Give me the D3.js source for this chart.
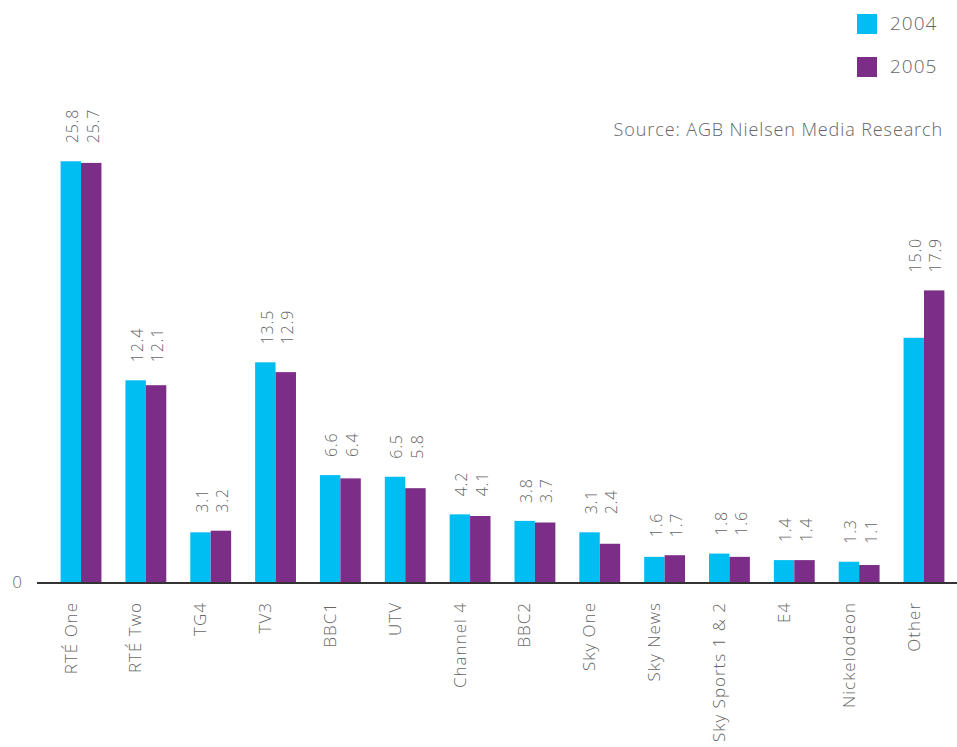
<!doctype html>
<html>
<head>
<meta charset="utf-8">
<script src="https://cdnjs.cloudflare.com/ajax/libs/d3/7.8.5/d3.min.js"></script>
<style>
  body { margin: 0; background: #fff; }
  svg text { font-family: "Open Sans", "Liberation Sans", sans-serif; font-weight: 300; fill: #666; }
</style>
</head>
<body>
<svg id="chart" width="957" height="747"></svg>
<script>
var channels = ["RTÉ One", "RTÉ Two", "TG4", "TV3", "BBC1", "UTV", "Channel 4", "BBC2",
                "Sky One", "Sky News", "Sky Sports 1 & 2", "E4", "Nickelodeon", "Other"];
var share2004 = [25.8, 12.4, 3.1, 13.5, 6.6, 6.5, 4.2, 3.8, 3.1, 1.6, 1.8, 1.4, 1.3, 15.0];
var share2005 = [25.7, 12.1, 3.2, 12.9, 6.4, 5.8, 4.1, 3.7, 2.4, 1.7, 1.6, 1.4, 1.1, 17.9];
var years = ["2004", "2005"];
var colours = ["#00bdf2", "#7b2d87"];

var svg = d3.select("#chart");

var x = d3.scaleBand().domain(channels).range([48.6, 956.4]).paddingInner(0.37).paddingOuter(0.185);
var x1 = d3.scaleBand().domain(years).range([0, x.bandwidth()]);
var y = d3.scaleLinear().domain([0, 26]).range([583, 158]);

var rows = channels.map(function(c, i) {
  return { name: c, vals: [share2004[i], share2005[i]] };
});

var groups = svg.selectAll("g.grp").data(rows).enter().append("g")
  .attr("class", "grp")
  .attr("transform", function(d) { return "translate(" + x(d.name) + ",0)"; });

groups.selectAll("rect").data(function(d) { return d.vals; }).enter().append("rect")
  .attr("x", function(d, i) { return x1(years[i]); })
  .attr("y", function(d) { return y(d); })
  .attr("width", x1.bandwidth())
  .attr("height", function(d) { return y(0) - y(d); })
  .style("fill", function(d, i) { return colours[i]; });

// value labels above each pair
groups.each(function(d) {
  var top = y(d3.max(d.vals)) - 18;
  d3.select(this).selectAll("text.val").data(d.vals).enter().append("text")
    .attr("class", "val")
    .attr("transform", function(v, i) {
      return "translate(" + (x1(years[i]) + x1.bandwidth() / 2 + 3) + "," + top + ") rotate(-90)";
    })
    .attr("dominant-baseline", "middle")
    .style("font-size", "16px")
    .style("letter-spacing", "0.8px")
    .text(function(v) { return v.toFixed(1); });
});

// baseline
svg.append("line")
  .attr("x1", 37).attr("x2", 957)
  .attr("y1", y(0)).attr("y2", y(0))
  .style("stroke", "#333").style("stroke-width", 2);

svg.append("text").attr("x", 17).attr("y", y(0))
  .attr("text-anchor", "middle").attr("dominant-baseline", "middle")
  .style("font-size", "17px").text("0");

// category labels
svg.selectAll("text.cat").data(channels).enter().append("text")
  .attr("class", "cat")
  .attr("transform", function(d) {
    return "translate(" + (x(d) + x.bandwidth() / 2 - 9) + ",602) rotate(-90)";
  })
  .attr("text-anchor", "end")
  .attr("dominant-baseline", "middle")
  .style("font-size", "17px")
  .style("letter-spacing", "1px")
  .text(function(d) { return d; });

// legend
var legend = svg.selectAll("g.leg").data(years).enter().append("g")
  .attr("class", "leg")
  .attr("transform", function(d, i) { return "translate(857," + (14 + i * 43) + ")"; });
legend.append("rect").attr("width", 20).attr("height", 20)
  .style("fill", function(d, i) { return colours[i]; });
legend.append("text").attr("x", 33).attr("y", 11)
  .attr("dominant-baseline", "middle")
  .style("font-size", "19px")
  .style("letter-spacing", "1px")
  .text(function(d) { return d; });

svg.append("text").attr("x", 943).attr("y", 136)
  .attr("text-anchor", "end")
  .style("font-size", "18px")
  .style("letter-spacing", "0.9px")
  .text("Source: AGB Nielsen Media Research");
</script>
</body>
</html>
